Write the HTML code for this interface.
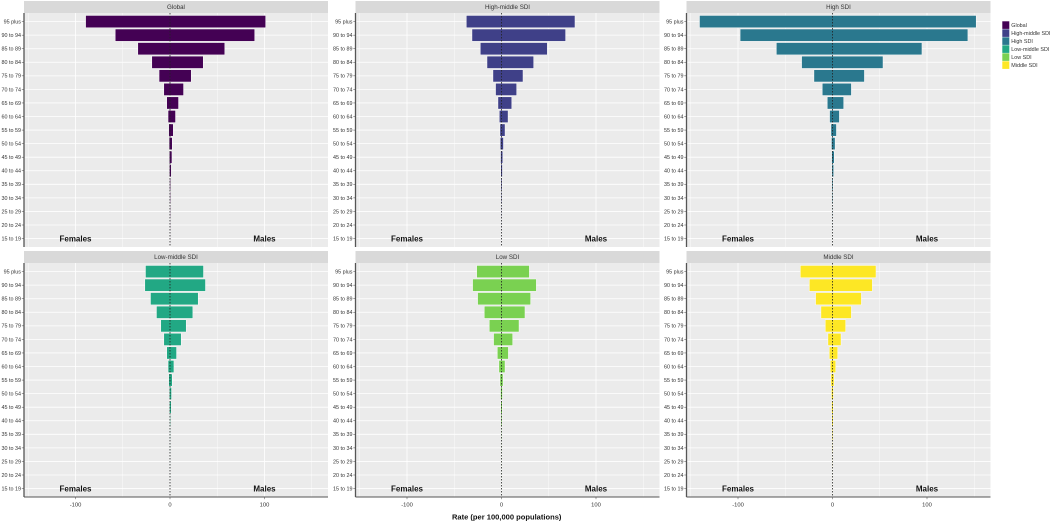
<!DOCTYPE html>
<html>
<head>
<meta charset="utf-8">
<style>
html,body{margin:0;padding:0;background:#fff;}
svg{display:block;filter:blur(0.3px);}
text{font-family:"Liberation Sans",sans-serif;}
</style>
</head>
<body>
<svg id="chart" xmlns="http://www.w3.org/2000/svg" width="1052" height="523" viewBox="0 0 1052 523"></svg>
<script>
const ageGroups = ["95 plus","90 to 94","85 to 89","80 to 84","75 to 79","70 to 74","65 to 69","60 to 64","55 to 59","50 to 54","45 to 49","40 to 44","35 to 39","30 to 34","25 to 29","20 to 24","15 to 19"];
const panelNames = ["Global","High-middle SDI","High SDI","Low-middle SDI","Low SDI","Middle SDI"];
const panelColors = ["#440154","#3f4088","#2a788e","#22a884","#7ad151","#fde725"];
const xTickValues = [-100,0,100];
const xMajorGrid = [-100,0,100];
const xMinorGrid = [-150,-50,50,150];

const femalesGlobal = [89,57.7,33.8,19,11.3,6.3,3.2,1.8,1.1,0.7,0.5,0.4,0.2,0.1,0.05,0.02,0.01];
const malesGlobal = [101,89.4,57.7,34.9,22.2,14.1,8.8,5.6,3.2,2.1,1.8,1.1,0.4,0.3,0.2,0.1,0.05];
const femalesHighMiddle = [37,31,22.2,15.1,8.8,6,3.5,2.1,1.4,1.1,0.7,0.5,0.3,0.2,0.1,0.05,0.02];
const malesHighMiddle = [77.5,67.6,48.2,33.8,22.5,15.8,10.6,6.7,3.5,1.8,1.1,0.7,0.4,0.2,0.1,0.05,0.02];
const femalesHigh = [140.5,97.5,59.2,32.4,19.4,10.6,5.3,2.8,1.4,0.9,0.6,0.4,0.2,0.1,0.05,0.02,0.01];
const malesHigh = [151.8,143,94.4,53.2,33.5,19.7,11.6,7,3.9,2.5,1.6,1,0.5,0.3,0.1,0.05,0.02];
const femalesLowMiddle = [25.7,26.4,20.4,14.1,9.5,6.3,3.2,1.8,1.1,0.5,0.4,0.1,0.05,0.03,0.02,0.01,0.01];
const malesLowMiddle = [35.2,37.3,29.6,23.9,16.9,11.6,6.7,3.9,2.1,1.4,1.1,0.3,0.1,0.05,0.03,0.02,0.01];
const femalesLow = [26,30.3,25,18,12.7,8.1,4.2,2.5,1.4,0.7,0.5,0.3,0.1,0.05,0.03,0.02,0.01];
const malesLow = [29.2,36.6,30.6,24.6,18.3,11.6,7,3.5,1.4,0.7,0.5,0.3,0.1,0.05,0.03,0.02,0.01];
const femalesMiddle = [33.8,24.3,17.6,12,7.4,4.6,3.2,2.1,1.4,0.9,0.7,0.5,0.3,0.1,0.05,0.02,0.01];
const malesMiddle = [45.8,41.9,30.3,19.7,13.7,8.8,5.3,3.2,1.4,0.7,0.5,0.4,0.2,0.1,0.05,0.02,0.01];

const femalesByPanel = [femalesGlobal,femalesHighMiddle,femalesHigh,femalesLowMiddle,femalesLow,femalesMiddle];
const malesByPanel = [malesGlobal,malesHighMiddle,malesHigh,malesLowMiddle,malesLow,malesMiddle];

const svg = document.getElementById('chart');
const NS = 'http://www.w3.org/2000/svg';
const PANEL_W = 304;
const ROW_STEP = 13.56;

function panelLeft(p){ return [24,355.5,686.5][p % 3]; }
function panelTop(p){ return p < 3 ? 13 : 263; }
function panelHeight(){ return 234; }
function xScale(p, v){ return panelLeft(p) + 146 + v * 0.945; }
function yScale(p, i){ return panelTop(p) + 8.6 + i * ROW_STEP; }

function make(tag, attrs, parent, text){
  const el = document.createElementNS(NS, tag);
  for (const k in attrs) el.setAttribute(k, attrs[k]);
  if (text !== undefined) el.textContent = text;
  (parent || svg).appendChild(el);
  return el;
}
function slug(s){ return s.toLowerCase().replace(/[^a-z0-9]+/g,'-'); }

panelNames.forEach(function(name, p){
  const L = panelLeft(p), T = panelTop(p), H = panelHeight(), B = T + H;
  const g = make('g', {});
  
  

  const strip = make('rect', {x:L, y:T-12, width:PANEL_W, height:12, fill:'#d9d9d9'}, g);
  
  
  const title = make('text', {x:L+PANEL_W/2, y:T-4, 'font-size':6.2, fill:'#333', 'text-anchor':'middle'}, g, name);
  
  

  const bg = make('rect', {x:L, y:T, width:PANEL_W, height:H, fill:'#ebebeb'}, g);
  
  

  xMinorGrid.forEach(function(v){
    const line = make('line', {x1:xScale(p,v), x2:xScale(p,v), y1:T, y2:B, stroke:'#fff', 'stroke-width':0.4}, g);
    
    
  });
  xMajorGrid.forEach(function(v){
    const line = make('line', {x1:xScale(p,v), x2:xScale(p,v), y1:T, y2:B, stroke:'#fff', 'stroke-width':0.8}, g);
    
    
  });
  ageGroups.forEach(function(age, i){
    const y = yScale(p, i);
    const line = make('line', {x1:L, x2:L+PANEL_W, y1:y, y2:y, stroke:'#fff', 'stroke-width':0.8}, g);
    
    
  });

  const females = femalesByPanel[p];
  const males = malesByPanel[p];
  const bh = 11.8;
  ageGroups.forEach(function(age, i){
    const y = yScale(p, i) - bh/2;
    const x0 = xScale(p, -females[i]);
    const x1 = xScale(p, 0);
    const x2 = xScale(p, males[i]);
    const halo = make('rect', {x:x0, y:y, width:x2-x0, height:bh, fill:'none', stroke:'#fff', 'stroke-width':0.8}, g);
    
    
    const f = make('rect', {x:x0, y:y, width:x1-x0, height:bh, fill:panelColors[p]}, g);
    
    
    const m = make('rect', {x:x1, y:y, width:x2-x1, height:bh, fill:panelColors[p]}, g);
    
    
  });

  const zero = make('line', {x1:xScale(p,0), x2:xScale(p,0), y1:T, y2:B, stroke:'#222', 'stroke-width':0.8, 'stroke-dasharray':'1.5 1.5'}, g);
  
  

  const yAxis = make('line', {x1:L, x2:L, y1:T, y2:B, stroke:'#555', 'stroke-width':1.3}, g);
  
  

  ageGroups.forEach(function(age, i){
    const y = yScale(p, i);
    const tick = make('line', {x1:L-2.2, x2:L, y1:y, y2:y, stroke:'#444', 'stroke-width':0.5}, g);
    
    
    const lab = make('text', {x:L-3, y:y+1.9, 'font-size':5.4, fill:'#333', 'text-anchor':'end'}, g, age);
    
    
  });

  const fem = make('text', {x:xScale(p,-100), y:yScale(p,16)+3, 'font-size':8, 'font-weight':'bold', fill:'#111', 'text-anchor':'middle'}, g, 'Females');
  
  
  const mal = make('text', {x:xScale(p,100), y:yScale(p,16)+3, 'font-size':8, 'font-weight':'bold', fill:'#111', 'text-anchor':'middle'}, g, 'Males');
  
  

  if (p >= 3) {
    const xAxis = make('line', {x1:L, x2:L+PANEL_W, y1:B, y2:B, stroke:'#555', 'stroke-width':0.9}, g);
    
    
    xTickValues.forEach(function(v){
      const tick = make('line', {x1:xScale(p,v), x2:xScale(p,v), y1:B, y2:B+2.2, stroke:'#444', 'stroke-width':0.5}, g);
      
      
      const lab = make('text', {x:xScale(p,v), y:B+9.5, 'font-size':5.8, fill:'#333', 'text-anchor':'middle'}, g, String(v));
      
      
    });
  }
});

const xTitle = make('text', {x:506.7, y:519.5, 'font-size':7.55, 'font-weight':'bold', fill:'#111', 'text-anchor':'middle'}, svg, 'Rate (per 100,000 populations)');



const legend = make('g', {});


panelNames.forEach(function(name, i){
  const y = 21.3 + i * 8;
  const key = make('rect', {x:1002.3, y:y, width:7, height:7.6, fill:panelColors[i]}, legend);
  
  
  const lab = make('text', {x:1011.3, y:y+5.9, 'font-size':5.4, fill:'#333'}, legend, name);
  
  
});
</script>
</body>
</html>
